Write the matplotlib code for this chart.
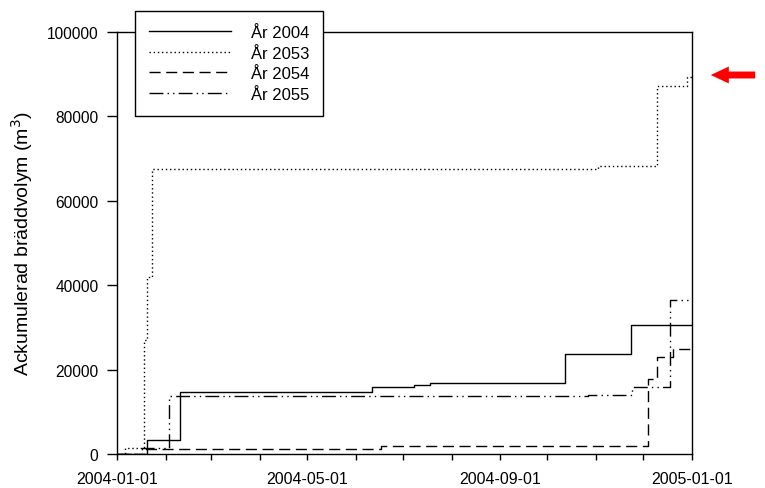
import numpy as np
import pandas as pd
import matplotlib
matplotlib.use("Agg")
import matplotlib.pyplot as plt
import matplotlib.dates as mdates

plt.rcParams['font.family'] = ['Liberation Sans', 'DejaVu Sans']

# cumulative overflow volume (m3), step changes
dates_2004 = ["2004-01-01", "2004-01-20", "2004-02-10", "2004-06-11", "2004-07-08",
              "2004-07-18", "2004-10-12", "2004-11-23", "2005-01-01"]
vals_2004 = [0, 3300, 14650, 15800, 16300, 16800, 23600, 30500, 30500]

dates_2053 = ["2004-01-01", "2004-01-06", "2004-01-18", "2004-01-20", "2004-01-23",
              "2004-11-02", "2004-12-10", "2004-12-29", "2005-01-01"]
vals_2053 = [0, 1400, 27000, 42000, 67500, 68300, 87200, 89400, 89400]

dates_2054 = ["2004-01-01", "2004-01-19", "2004-06-17", "2004-12-04", "2004-12-10",
              "2004-12-20", "2005-01-01"]
vals_2054 = [0, 1200, 1900, 17700, 22900, 25000, 25000]

dates_2055 = ["2004-01-01", "2004-01-17", "2004-02-03", "2004-10-27", "2004-11-24",
              "2004-12-18", "2005-01-01"]
vals_2055 = [0, 1500, 13700, 13900, 15800, 36400, 36400]

labels = ["År 2004", "År 2053", "År 2054", "År 2055"]
styles = ["-", (0, (1, 2)), (0, (8, 4)), (0, (10, 3, 1, 3, 1, 3))]

fig = plt.figure(figsize=(7.65, 4.89), dpi=100)
ax = fig.add_axes([0.153, 0.0695, 0.7516, 0.863])

series = [(dates_2004, vals_2004), (dates_2053, vals_2053),
          (dates_2054, vals_2054), (dates_2055, vals_2055)]
for (d, v), lab, ls in zip(series, labels, styles):
    ax.step(pd.to_datetime(d), v, where="post", color="black", lw=1.0,
            linestyle=ls, label=lab)

ax.set_xlim(pd.Timestamp("2004-01-01"), pd.Timestamp("2005-01-01"))
ax.set_ylim(0, 100000)
ax.set_yticks(np.arange(0, 100001, 20000))
ax.xaxis.set_major_locator(mdates.MonthLocator(bymonth=[1, 5, 9]))
ax.xaxis.set_major_formatter(mdates.DateFormatter("%Y-%m-%d"))
ax.xaxis.set_minor_locator(mdates.MonthLocator())
ax.tick_params(axis="y", direction="out", length=7, width=1, labelsize=11.2, pad=6.5)
ax.tick_params(axis="x", which="both", direction="out", length=4, width=1,
               labelsize=11.5, pad=8)
ax.set_ylabel("Ackumulerad bräddvolym (m$^3$)", fontsize=14)
ax.yaxis.set_label_coords(-0.142, 0.5)
for s in ax.spines.values():
    s.set_linewidth(1.0)

leg = ax.legend(loc="upper left", bbox_to_anchor=(135 / 765, 1 - 12 / 489),
                bbox_transform=fig.transFigure, fontsize=12, fancybox=False,
                edgecolor="black", framealpha=1, borderpad=0.85, handlelength=4.9,
                handletextpad=1.2, labelspacing=0.33, borderaxespad=0)
leg.get_frame().set_linewidth(1.0)
leg.get_frame().set_boxstyle("square", pad=0)
leg.set_zorder(5)

ax.annotate("", xy=(708 / 765, 1 - 76 / 489), xytext=(758 / 765, 1 - 76 / 489),
            xycoords="figure fraction", textcoords="figure fraction",
            arrowprops=dict(arrowstyle="simple,head_length=1.3,head_width=1.22,tail_width=0.5",
                            color="#ff0000", lw=0, mutation_scale=10))

fig.savefig("out.png", dpi=100)
